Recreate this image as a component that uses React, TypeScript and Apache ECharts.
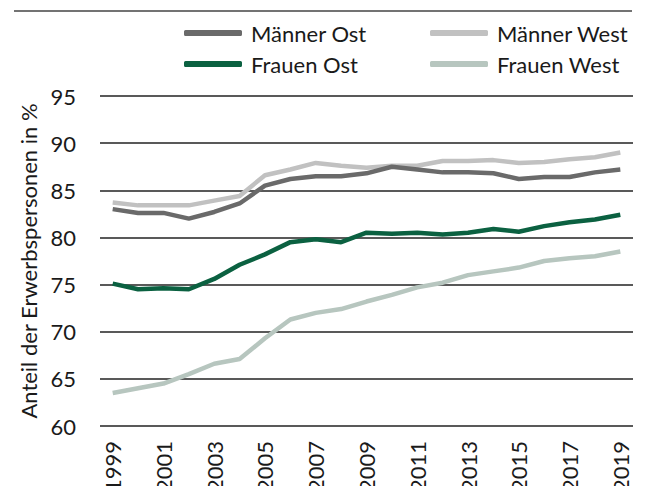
import React, { useEffect, useRef } from "react";
import * as echarts from "echarts";

const years = ["1999","2000","2001","2002","2003","2004","2005","2006","2007","2008","2009","2010","2011","2012","2013","2014","2015","2016","2017","2018","2019"];
const maennerOst = [83.0, 82.6, 82.6, 82.0, 82.7, 83.6, 85.5, 86.2, 86.5, 86.5, 86.8, 87.5, 87.2, 86.9, 86.9, 86.8, 86.2, 86.4, 86.4, 86.9, 87.2];
const maennerWest = [83.7, 83.4, 83.4, 83.4, 83.9, 84.4, 86.6, 87.2, 87.9, 87.6, 87.4, 87.6, 87.6, 88.1, 88.1, 88.2, 87.9, 88.0, 88.3, 88.5, 89.0];
const frauenOst = [75.1, 74.5, 74.6, 74.5, 75.6, 77.1, 78.2, 79.5, 79.8, 79.5, 80.5, 80.4, 80.5, 80.3, 80.5, 80.9, 80.6, 81.2, 81.6, 81.9, 82.4];
const frauenWest = [63.5, 64.0, 64.5, 65.5, 66.6, 67.1, 69.3, 71.3, 72.0, 72.4, 73.2, 73.9, 74.7, 75.2, 76.0, 76.4, 76.8, 77.5, 77.8, 78.0, 78.5];
const yTicks = { min: 60, max: 95, interval: 5 };
const yName = "Anteil der Erwerbspersonen in %";

const FONT = "Lato";
const FS = 22;

export default function App() {
  const ref = useRef<HTMLDivElement>(null);
  useEffect(() => {
    if (!ref.current) return;
    const chart = echarts.init(ref.current, undefined, { renderer: "svg" });
    const mk = (name: string, data: number[], color: string) => ({
      name,
      type: "line",
      data,
      symbol: "none",
      lineStyle: { color, width: 4.5 },
      itemStyle: { color },
    });
    const leg = (name: string, left: number, top: number) => ({
      data: [name],
      top,
      left,
      padding: 0,
      itemWidth: 58,
      itemHeight: 6,
      icon: "roundRect",
      textStyle: { fontSize: FS, color: "#1a1a1a", fontFamily: FONT, padding: [0, 0, 0, 4] },
    });
    chart.setOption({
      animation: false,
      backgroundColor: "#ffffff",
      textStyle: { fontFamily: FONT },
      grid: { left: 100, right: 13, top: 96, bottom: 60, containLabel: false, outerBoundsMode: "none" },
      legend: [
        leg("Männer Ost", 184, 22),
        leg("Männer West", 430, 22),
        leg("Frauen Ost", 184, 53),
        leg("Frauen West", 430, 53),
      ],
      graphic: [
        {
          type: "line",
          shape: { x1: 14, y1: 11, x2: 632, y2: 11 },
          style: { stroke: "#444444", lineWidth: 1.5 },
        },
      ],
      xAxis: {
        type: "category",
        data: years,
        boundaryGap: true,
        axisLine: { show: false },
        axisTick: { show: false },
        axisLabel: {
          interval: 1,
          rotate: 90,
          fontSize: FS,
          color: "#1a1a1a",
          margin: 15,
          fontFamily: FONT,
        },
      },
      yAxis: {
        type: "value",
        min: yTicks.min,
        max: yTicks.max,
        interval: yTicks.interval,
        name: yName,
        nameLocation: "middle",
        nameGap: 56,
        nameRotate: 90,
        nameTextStyle: { fontSize: FS, color: "#1a1a1a", fontFamily: FONT },
        axisLine: { show: false },
        axisTick: { show: false },
        axisLabel: { fontSize: FS, color: "#1a1a1a", margin: 24, fontFamily: FONT },
        splitLine: { lineStyle: { color: "#222222", width: 1.5 } },
      },
      series: [
        mk("Frauen West", frauenWest, "#b7c6bf"),
        mk("Frauen Ost", frauenOst, "#0b6141"),
        mk("Männer West", maennerWest, "#c1c1c1"),
        mk("Männer Ost", maennerOst, "#6a6a6a"),
      ],
    });
    return () => chart.dispose();
  }, []);
  return <div ref={ref} style={{ width: 646, height: 486, position: "absolute", left: 0, top: 0 }} />;
}
